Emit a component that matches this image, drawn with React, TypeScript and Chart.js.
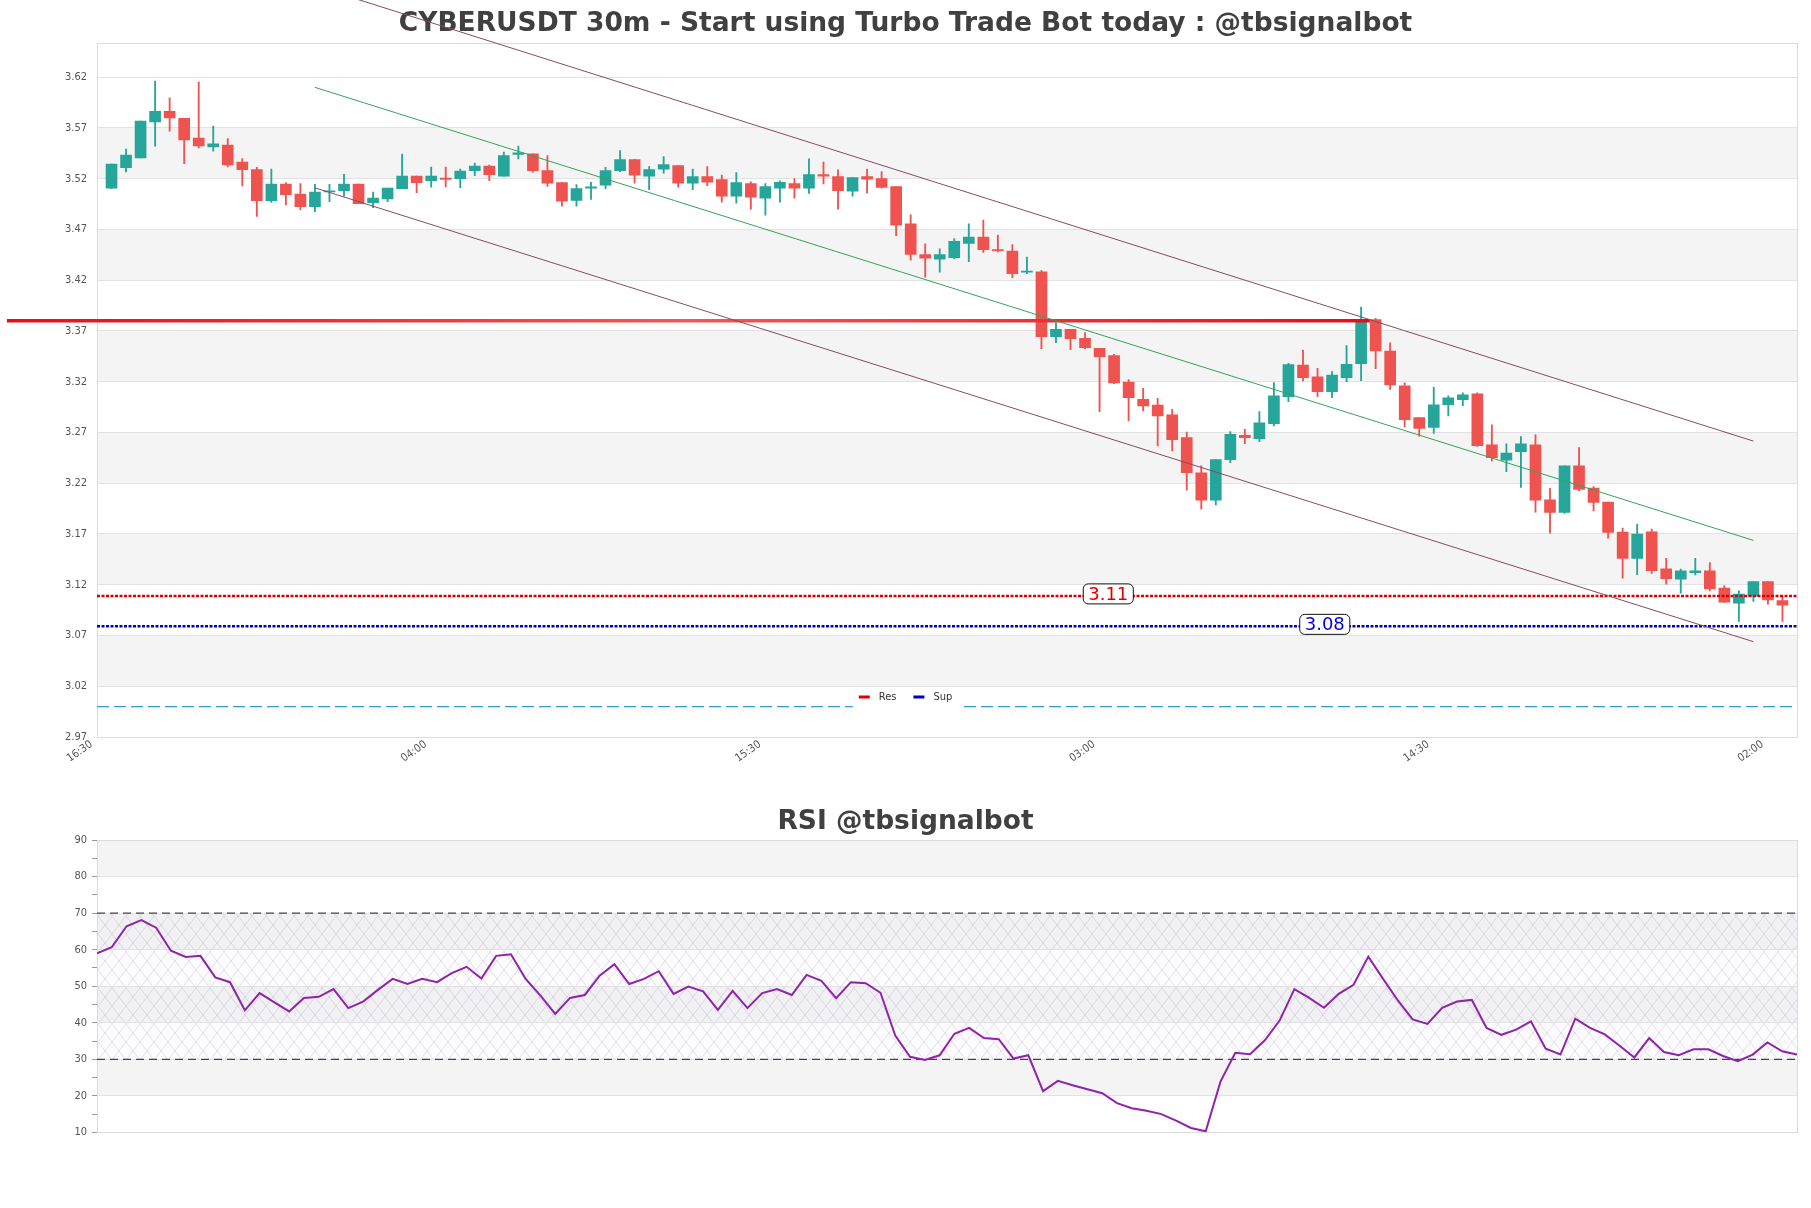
import React, { useEffect, useRef } from "react";
import { Chart, registerables } from "chart.js";

Chart.register(...registerables);

const FONT_C = "'DejaVu Sans Condensed', 'DejaVu Sans', sans-serif";
const FONT = "'DejaVu Sans', sans-serif";

const titleText = "CYBERUSDT 30m - Start using Turbo Trade Bot today : @tbsignalbot";
const rsiTitleText = "RSI @tbsignalbot";

const opens = [
  3.5107, 3.5308, 3.5406, 3.576, 3.5865, 3.5796, 3.56, 3.5514, 3.5531, 3.5363,
  3.5291, 3.4983, 3.5147, 3.5048, 3.4924, 3.5071, 3.5081, 3.5147, 3.4963, 3.5002,
  3.5101, 3.5226, 3.518, 3.5206, 3.52, 3.5278, 3.5324, 3.5226, 3.5439, 3.5444,
  3.528, 3.5162, 3.4985, 3.5106, 3.5136, 3.528, 3.5388, 3.5224, 3.5293, 3.5329,
  3.5155, 3.5221, 3.5191, 3.5027, 3.5152, 3.5008, 3.5106, 3.5152, 3.5106, 3.5241,
  3.5221, 3.5077, 3.5221, 3.5201, 3.5123, 3.4755, 3.4453, 3.4407, 3.4421, 3.4562,
  3.4625, 3.4503, 3.4487, 3.428, 3.4283, 3.3644, 3.3716, 3.3627, 3.3529, 3.3457,
  3.3197, 3.3027, 3.2971, 3.2873, 3.265, 3.2302, 3.2033, 3.2433, 3.2672, 3.264,
  3.2787, 3.3053, 3.3365, 3.3247, 3.3102, 3.324, 3.3378, 3.3812, 3.3503, 3.3159,
  3.2847, 3.2749, 3.2975, 3.3024, 3.308, 3.2578, 3.2426, 3.2512, 3.2578, 3.2037,
  3.1912, 3.2371, 3.2153, 3.2014, 3.1718, 3.1459, 3.1721, 3.1357, 3.1256, 3.1318,
  3.1338, 3.1166, 3.1018, 3.1088, 3.1232, 3.1043,
];
const highs = [
  3.5344, 3.5491, 3.5767, 3.6161, 3.5997, 3.5796, 3.6151, 3.5718, 3.5596, 3.5399,
  3.5311, 3.5294, 3.5163, 3.5153, 3.5144, 3.5144, 3.5242, 3.5147, 3.5068, 3.5107,
  3.5442, 3.5226, 3.5314, 3.5314, 3.5294, 3.5354, 3.5334, 3.5462, 3.5521, 3.5444,
  3.5428, 3.5162, 3.5142, 3.5165, 3.5313, 3.5477, 3.5388, 3.5319, 3.5418, 3.5329,
  3.5296, 3.5319, 3.5237, 3.526, 3.5169, 3.5152, 3.5178, 3.5202, 3.5395, 3.5365,
  3.5287, 3.5211, 3.5296, 3.527, 3.5123, 3.4844, 3.4558, 3.4509, 3.4611, 3.4756,
  3.4792, 3.4644, 3.4552, 3.4428, 3.4296, 3.3781, 3.3716, 3.3683, 3.3529, 3.347,
  3.322, 3.3135, 3.3037, 3.2928, 3.2705, 3.2371, 3.2433, 3.2709, 3.2731, 3.2906,
  3.3191, 3.3381, 3.3512, 3.3332, 3.3299, 3.3555, 3.3936, 3.3825, 3.3582, 3.3188,
  3.2847, 3.3144, 3.306, 3.309, 3.309, 3.2775, 3.2587, 3.2659, 3.2676, 3.2151,
  3.2371, 3.2552, 3.2166, 3.2014, 3.1758, 3.1797, 3.1748, 3.1461, 3.1354, 3.1459,
  3.1419, 3.1192, 3.114, 3.1232, 3.1232, 3.1085,
];
const lows = [
  3.5101, 3.5268, 3.5406, 3.5521, 3.5669, 3.5347, 3.5504, 3.5472, 3.5317, 3.513,
  3.4829, 3.4966, 3.4943, 3.4894, 3.4875, 3.4973, 3.5029, 3.4953, 3.4914, 3.4973,
  3.5101, 3.5062, 3.5117, 3.512, 3.5111, 3.5229, 3.518, 3.5226, 3.5396, 3.5264,
  3.5123, 3.4929, 3.4929, 3.4995, 3.5103, 3.527, 3.5155, 3.5093, 3.5254, 3.5116,
  3.5093, 3.5132, 3.4968, 3.4959, 3.4899, 3.484, 3.4968, 3.5008, 3.5054, 3.5149,
  3.4899, 3.5027, 3.5057, 3.5106, 3.464, 3.4397, 3.423, 3.4279, 3.4411, 3.4382,
  3.4474, 3.448, 3.4224, 3.4264, 3.3525, 3.3585, 3.3516, 3.3525, 3.2905, 3.3182,
  3.2814, 3.2912, 3.2567, 3.2518, 3.2131, 3.1944, 3.1986, 3.2403, 3.2589, 3.261,
  3.2764, 3.3004, 3.3207, 3.3053, 3.3043, 3.3201, 3.321, 3.3329, 3.3123, 3.2755,
  3.2663, 3.269, 3.2863, 3.2965, 3.2562, 3.242, 3.2314, 3.2158, 3.1914, 3.1707,
  3.1902, 3.2127, 3.1928, 3.1659, 3.1264, 3.1299, 3.1312, 3.1206, 3.1117, 3.1297,
  3.114, 3.1026, 3.0838, 3.1036, 3.1009, 3.0838,
];
const closes = [
  3.5344, 3.5432, 3.5767, 3.5865, 3.58, 3.5583, 3.5524, 3.5544, 3.5337, 3.5288,
  3.4983, 3.5147, 3.5042, 3.4924, 3.5068, 3.5081, 3.5147, 3.4953, 3.5009, 3.5107,
  3.5226, 3.516, 3.5226, 3.5193, 3.5275, 3.5324, 3.5239, 3.5429, 3.5455, 3.528,
  3.5155, 3.4978, 3.5103, 3.5119, 3.528, 3.5388, 3.5234, 3.529, 3.5339, 3.5155,
  3.5221, 3.5165, 3.5027, 3.5162, 3.5018, 3.5123, 3.5165, 3.5106, 3.5241, 3.5224,
  3.5083, 3.5211, 3.5195, 3.5113, 3.4742, 3.4453, 3.4417, 3.4453, 3.4582, 3.4625,
  3.45, 3.449, 3.4264, 3.4287, 3.3644, 3.3716, 3.3624, 3.3535, 3.3447, 3.3188,
  3.3043, 3.2961, 3.2863, 3.263, 3.2305, 3.2033, 3.2433, 3.2682, 3.265, 3.2794,
  3.306, 3.3368, 3.324, 3.3102, 3.3266, 3.3371, 3.3808, 3.3503, 3.3169, 3.2827,
  3.2739, 3.2972, 3.3041, 3.307, 3.2571, 3.2453, 3.2498, 3.2587, 3.2033, 3.1912,
  3.2371, 3.214, 3.2012, 3.1715, 3.1459, 3.1699, 3.1338, 3.1261, 3.1338, 3.1338,
  3.1159, 3.1028, 3.1107, 3.1232, 3.1051, 3.0998,
];

const rsiValues = [
  59.0, 60.7, 66.4, 68.1, 66.0, 59.7, 58.0, 58.3, 52.4, 51.1,
  43.4, 48.1, 45.6, 43.1, 46.8, 47.1, 49.2, 44.0, 45.8, 49.0,
  52.0, 50.6, 52.0, 51.1, 53.6, 55.3, 52.1, 58.3, 58.75, 52.0,
  47.4, 42.4, 46.8, 47.6, 52.9, 56.0, 50.6, 52.0, 54.1, 47.9,
  49.9, 48.6, 43.5, 48.7, 44.0, 48.1, 49.2, 47.6, 53.1, 51.5,
  46.7, 51.1, 50.8, 48.2, 36.5, 30.7, 29.8, 31.1, 37.0, 38.6,
  35.8, 35.5, 30.2, 31.1, 21.3, 24.1, 22.9, 21.8, 20.7, 18.0,
  16.6, 15.9, 15.0, 13.2, 11.2, 10.3, 23.9, 31.8, 31.4, 35.2,
  40.6, 49.2, 46.8, 44.1, 47.9, 50.4, 58.1, 52.0, 46.1, 40.9,
  39.7, 44.1, 45.8, 46.25, 38.6, 36.7, 38.1, 40.4, 32.9, 31.3,
  41.1, 38.6, 36.8, 33.7, 30.5, 35.8, 32.0, 31.1, 32.75, 32.75,
  30.9, 29.5, 31.3, 34.6, 32.2, 31.3,
];

const timeLabels = ["16:30", "04:00", "15:30", "03:00", "14:30", "02:00"];
const timeLabelIndices = [0, 23, 46, 69, 92, 115];
const priceTicks = [2.97, 3.02, 3.07, 3.12, 3.17, 3.22, 3.27, 3.32, 3.37, 3.42, 3.47, 3.52, 3.57, 3.62];
const priceMin = 2.97;
const priceMax = 3.6535;
const rsiTicks = [10, 20, 30, 40, 50, 60, 70, 80, 90];
const rsiOverbought = 70;
const rsiOversold = 30;

const resistanceLevel = 3.109;
const supportLevel = 3.079;
const baseLevel = 3.0;
const breakoutLevel = 3.38;
const breakoutSpan = [-7.2, 86.6];
const channelSpan = [14, 113];
const upperChannel = [3.71, 3.2615];
const middleChannel = [3.61, 3.1637];
const lowerChannel = [3.511, 3.0639];
const levelLabels = [
  { text: "3.11", value: resistanceLevel, at: 68.6, color: "#e00000" },
  { text: "3.08", value: supportLevel, at: 83.5, color: "#0000dd" },
];
const legendItems = [
  { text: "Res", color: "#dd0000" },
  { text: "Sup", color: "#0000cc" },
];

const UP = "#26a69a";
const DOWN = "#ef5350";

function bandPlugin(ticks: number[], hatch: number[] | null) {
  let pattern: CanvasPattern | null = null;
  return {
    id: "bands",
    beforeDraw(chart: any) {
      const { ctx, chartArea, scales } = chart;
      const y = scales.y;
      const w = chartArea.right - chartArea.left;
      ctx.save();
      ctx.fillStyle = "#f4f4f4";
      for (let i = 1; i < ticks.length - 1; i += 2) {
        const top = y.getPixelForValue(ticks[i + 1]);
        const bot = y.getPixelForValue(ticks[i]);
        ctx.fillRect(chartArea.left, top, w, bot - top);
      }
      if (hatch) {
        if (!pattern) {
          const c = document.createElement("canvas");
          c.width = 14;
          c.height = 18;
          const g = c.getContext("2d")!;
          g.strokeStyle = "rgba(160,140,185,0.36)";
          g.lineWidth = 0.7;
          g.beginPath();
          g.moveTo(0, 0);
          g.lineTo(14, 18);
          g.moveTo(14, 0);
          g.lineTo(0, 18);
          g.stroke();
          pattern = ctx.createPattern(c, "repeat");
        }
        const top = y.getPixelForValue(hatch[1]);
        const bot = y.getPixelForValue(hatch[0]);
        ctx.fillStyle = "rgba(150,120,180,0.03)";
        ctx.fillRect(chartArea.left, top, w, bot - top);
        if (pattern) {
          ctx.fillStyle = pattern;
          ctx.fillRect(chartArea.left, top, w, bot - top);
        }
      }
      ctx.restore();
    },
    beforeDatasetsDraw(chart: any) {
      const { ctx, chartArea } = chart;
      ctx.save();
      ctx.strokeStyle = "#dcdcdc";
      ctx.lineWidth = 1;
      ctx.strokeRect(
        Math.round(chartArea.left) + 0.5,
        Math.round(chartArea.top) + 0.5,
        Math.round(chartArea.right - chartArea.left),
        Math.round(chartArea.bottom - chartArea.top)
      );
      ctx.restore();
    },
  };
}

const overlayPlugin = {
  id: "overlay",
  afterDatasetsDraw(chart: any) {
    const { ctx, chartArea, scales } = chart;
    const x = scales.x;
    const y = scales.y;
    ctx.save();
    ctx.font = `18px ${FONT}`;
    ctx.textAlign = "center";
    ctx.textBaseline = "middle";
    for (const l of levelLabels) {
      const cx = x.getPixelForValue(l.at);
      const cy = y.getPixelForValue(l.value) - 2;
      const tw = ctx.measureText(l.text).width;
      const bw = tw + 10;
      const bh = 20;
      ctx.beginPath();
      (ctx as any).roundRect(cx - bw / 2, cy - bh / 2, bw, bh, 5);
      ctx.fillStyle = "#ffffff";
      ctx.fill();
      ctx.strokeStyle = "#111111";
      ctx.lineWidth = 1;
      ctx.stroke();
      ctx.fillStyle = l.color;
      ctx.fillText(l.text, cx, cy + 1);
    }
    ctx.font = `11px ${FONT_C}`;
    ctx.textAlign = "left";
    const marker = 11;
    const gap = 9;
    const itemGap = 17;
    const widths = legendItems.map((it) => ctx.measureText(it.text).width);
    let total = 0;
    widths.forEach((w, i) => {
      total += marker + gap + w + (i < widths.length - 1 ? itemGap : 0);
    });
    const ly = chartArea.bottom - 40;
    let lx = chart.width / 2 - total / 2;
    ctx.fillStyle = "#ffffff";
    ctx.fillRect(lx - 6, ly - 9, total + 15, 21);
    legendItems.forEach((it, i) => {
      ctx.fillStyle = it.color;
      ctx.fillRect(lx, ly - 1.5, marker, 3);
      ctx.fillStyle = "#333333";
      ctx.fillText(it.text, lx + marker + gap, ly);
      lx += marker + gap + widths[i] + itemGap;
    });
    ctx.restore();
  },
};

function lineSet(from: number, to: number, a: number, b: number, extra: any) {
  return {
    type: "line",
    data: [
      { x: from, y: a },
      { x: to, y: b },
    ],
    pointRadius: 0,
    borderWidth: 1,
    fill: false,
    tension: 0,
    order: 0,
    ...extra,
  };
}

function mainConfig(): any {
  const idx = opens.map((_, i) => i);
  const colors = idx.map((i) => (closes[i] >= opens[i] ? UP : DOWN));
  return {
    type: "bar",
    data: {
      datasets: [
        lineSet(channelSpan[0], channelSpan[1], upperChannel[0], upperChannel[1], {
          borderColor: "#8a4a5e",
          clip: false,
        }),
        lineSet(channelSpan[0], channelSpan[1], middleChannel[0], middleChannel[1], {
          borderColor: "#36a259",
          clip: false,
        }),
        lineSet(channelSpan[0], channelSpan[1], lowerChannel[0], lowerChannel[1], {
          borderColor: "#8a4a5e",
          clip: false,
        }),
        lineSet(breakoutSpan[0], breakoutSpan[1], breakoutLevel, breakoutLevel, {
          borderWidth: 3.5,
          clip: false,
          borderColor: (c: any) => {
            const ch = c.chart;
            if (!ch.chartArea || !ch.scales.x) return "#e8101c";
            const x0 = ch.scales.x.getPixelForValue(breakoutSpan[0]);
            const x1 = ch.scales.x.getPixelForValue(breakoutSpan[1]);
            const g = ch.ctx.createLinearGradient(x0, 0, x1, 0);
            g.addColorStop(0, "#e60d18");
            g.addColorStop(0.5, "#f35757");
            g.addColorStop(1, "#e60d18");
            return g;
          },
        }),
        lineSet(-1, 116, resistanceLevel, resistanceLevel, {
          borderColor: "#dd0000",
          borderWidth: 2.5,
          borderDash: [3, 1.5],
        }),
        lineSet(-1, 116, supportLevel, supportLevel, {
          borderColor: "#0000cc",
          borderWidth: 2.5,
          borderDash: [3, 1.5],
        }),
        lineSet(-1, 116, baseLevel, baseLevel, {
          borderColor: "#2e9ad6",
          borderWidth: 1.3,
          borderDash: [12, 5],
        }),
        {
          type: "bar",
          data: idx.map((i) => ({ x: i, y: [opens[i], closes[i]] })),
          backgroundColor: colors,
          borderWidth: 0,
          barThickness: 11,
          minBarLength: 1,
          grouped: false,
          order: 1,
        },
        {
          type: "bar",
          data: idx.map((i) => ({ x: i, y: [lows[i], highs[i]] })),
          backgroundColor: colors,
          borderWidth: 0,
          barThickness: 1.2,
          grouped: false,
          order: 2,
        },
      ],
    },
    options: {
      responsive: false,
      animation: false,
      events: [],
      layout: { padding: { left: 14, right: 14, top: 0, bottom: 0 } },
      plugins: {
        legend: { display: false },
        tooltip: { enabled: false },
        title: {
          display: true,
          text: titleText,
          color: "#404040",
          font: { family: FONT, size: 26.5, weight: "bold" },
          padding: { top: 8.5, bottom: 2.9 },
        },
      },
      scales: {
        x: {
          type: "linear",
          min: -1,
          max: 116,
          offset: false,
          grid: { display: false, offset: false },
          border: { display: false },
          afterBuildTicks: (s: any) => {
            s.ticks = timeLabelIndices.map((v) => ({ value: v }));
          },
          afterFit: (s: any) => {
            s.height = 40;
          },
          ticks: {
            autoSkip: false,
            minRotation: 35,
            maxRotation: 35,
            labelOffset: -20,
            padding: -7,
            color: "#555555",
            font: { family: FONT_C, size: 11 },
            callback: (v: any) => {
              const k = timeLabelIndices.indexOf(Number(v));
              return k >= 0 ? timeLabels[k] : "";
            },
          },
        },
        y: {
          type: "linear",
          min: priceMin,
          max: priceMax,
          beginAtZero: false,
          afterBuildTicks: (s: any) => {
            s.ticks = priceTicks.map((v) => ({ value: v }));
          },
          afterFit: (s: any) => {
            s.width = 83;
          },
          grid: { color: "#e2e2e2", drawTicks: false },
          border: { display: false },
          ticks: {
            padding: 10,
            color: "#555555",
            font: { family: FONT_C, size: 11 },
            callback: (v: any) => Number(v).toFixed(2),
          },
        },
      },
    },
    plugins: [bandPlugin(priceTicks, null), overlayPlugin],
  };
}

function rsiConfig(): any {
  return {
    type: "line",
    data: {
      datasets: [
        {
          data: rsiValues.map((v, i) => ({ x: i, y: v })),
          borderColor: "#8e24aa",
          borderWidth: 2,
          pointRadius: 0,
          tension: 0,
          fill: false,
          order: 0,
        },
        lineSet(0, rsiValues.length - 1, rsiOverbought, rsiOverbought, {
          borderColor: "#444444",
          borderWidth: 1.3,
          borderDash: [8, 5],
          order: 1,
        }),
        lineSet(0, rsiValues.length - 1, rsiOversold, rsiOversold, {
          borderColor: "#444444",
          borderWidth: 1.3,
          borderDash: [8, 5],
          order: 1,
        }),
      ],
    },
    options: {
      responsive: false,
      animation: false,
      events: [],
      layout: { padding: { left: 14, right: 14, top: 0, bottom: 10 } },
      plugins: {
        legend: { display: false },
        tooltip: { enabled: false },
        title: {
          display: true,
          text: rsiTitleText,
          color: "#404040",
          font: { family: FONT, size: 26.5, weight: "bold" },
          padding: { top: 16.4, bottom: 1.8 },
        },
      },
      scales: {
        x: { type: "linear", min: 0, max: rsiValues.length - 1, display: false },
        y: {
          type: "linear",
          min: rsiTicks[0],
          max: rsiTicks[rsiTicks.length - 1],
          afterFit: (s: any) => {
            s.width = 83;
          },
          grid: {
            color: (c: any) =>
              c.tick && Number(c.tick.value) % 10 === 0 ? "#e2e2e2" : "rgba(0,0,0,0)",
            tickColor: "#9a9a9a",
            tickLength: 5,
          },
          border: { display: false },
          ticks: {
            stepSize: 5,
            padding: 5,
            color: "#555555",
            font: { family: FONT_C, size: 11 },
            callback: (v: any) => (Number(v) % 10 === 0 ? String(v) : ""),
          },
        },
      },
    },
    plugins: [bandPlugin(rsiTicks, [rsiOversold, rsiOverbought])],
  };
}

export default function App() {
  const mainRef = useRef<HTMLCanvasElement>(null);
  const rsiRef = useRef<HTMLCanvasElement>(null);
  useEffect(() => {
    const main = new Chart(mainRef.current!, mainConfig());
    const rsi = new Chart(rsiRef.current!, rsiConfig());
    return () => {
      main.destroy();
      rsi.destroy();
    };
  }, []);
  return (
    <div
      style={{
        position: "absolute",
        left: 0,
        top: 0,
        width: 1811,
        height: 1208,
        background: "#ffffff",
        overflow: "hidden",
      }}
    >
      <canvas ref={mainRef} width={1811} height={777} style={{ position: "absolute", left: 0, top: 0 }} />
      <canvas ref={rsiRef} width={1811} height={354} style={{ position: "absolute", left: 0, top: 790 }} />
    </div>
  );
}
